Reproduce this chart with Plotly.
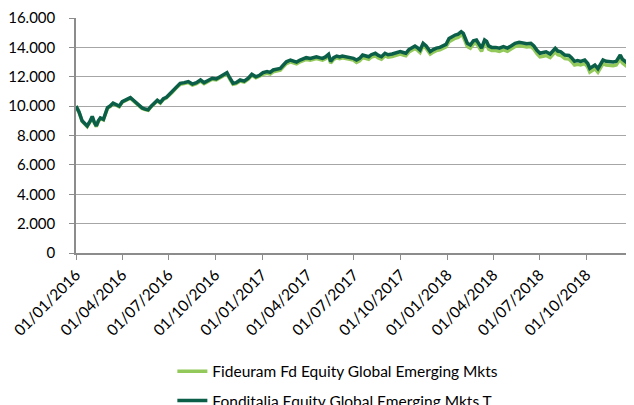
import plotly.graph_objects as go

dates = [
    "2016-01-01","2016-01-07","2016-01-13","2016-01-19","2016-01-23","2016-01-29","2016-02-02","2016-02-06","2016-02-10","2016-02-14",
    "2016-02-18","2016-02-24","2016-02-28","2016-03-03","2016-03-08","2016-03-14","2016-03-20","2016-03-26","2016-04-01","2016-04-09",
    "2016-04-17","2016-04-23","2016-04-29","2016-05-05","2016-05-10","2016-05-16","2016-05-22","2016-05-28","2016-06-03","2016-06-09",
    "2016-06-15","2016-06-21","2016-06-27",
    "2016-07-03","2016-07-08","2016-07-16","2016-07-24","2016-08-01","2016-08-09","2016-08-17","2016-08-25","2016-09-02","2016-09-09",
    "2016-09-17","2016-09-25","2016-10-03","2016-10-11","2016-10-18","2016-10-24","2016-10-30","2016-11-05","2016-11-11","2016-11-19",
    "2016-11-27","2016-12-05","2016-12-12","2016-12-20","2016-12-28",
    "2017-01-03","2017-01-11","2017-01-17","2017-01-23","2017-01-31","2017-02-06","2017-02-12","2017-02-18","2017-02-26","2017-03-04",
    "2017-03-10","2017-03-17","2017-03-23","2017-03-29","2017-04-06","2017-04-12","2017-04-18","2017-04-24","2017-04-30","2017-05-06",
    "2017-05-12","2017-05-16","2017-05-22","2017-05-28","2017-06-03","2017-06-08","2017-06-16","2017-06-24","2017-06-30",
    "2017-07-06","2017-07-12","2017-07-18","2017-07-24","2017-07-30","2017-08-04","2017-08-12","2017-08-18","2017-08-24","2017-08-31",
    "2017-09-06","2017-09-14","2017-09-22","2017-09-30","2017-10-06","2017-10-11","2017-10-17","2017-10-23","2017-10-29","2017-11-04",
    "2017-11-08","2017-11-14","2017-11-20","2017-11-24","2017-11-28","2017-12-04","2017-12-10","2017-12-17","2017-12-23","2017-12-29",
    "2018-01-04","2018-01-10","2018-01-16","2018-01-22","2018-01-28","2018-02-01","2018-02-05","2018-02-09","2018-02-15","2018-02-21",
    "2018-02-27","2018-03-05","2018-03-09","2018-03-15","2018-03-19","2018-03-23","2018-03-29","2018-04-06","2018-04-13","2018-04-21",
    "2018-04-29","2018-05-06","2018-05-14","2018-05-22","2018-05-30","2018-06-06","2018-06-14","2018-06-20","2018-06-26","2018-07-02",
    "2018-07-08","2018-07-14","2018-07-22","2018-07-28","2018-08-01","2018-08-06","2018-08-12","2018-08-20","2018-08-28","2018-09-02",
    "2018-09-08","2018-09-14","2018-09-20","2018-09-28","2018-10-04","2018-10-08","2018-10-14","2018-10-18","2018-10-24","2018-10-30",
    "2018-11-03","2018-11-09","2018-11-17","2018-11-23","2018-11-29","2018-12-05","2018-12-07","2018-12-11","2018-12-17","2018-12-23",
    "2018-12-27","2018-12-31",
]

fonditalia = [
    10000,9600,9000,8800,8650,9000,9300,8900,8650,9000,
    9200,9100,9600,9900,10000,10200,10100,10000,10300,10450,
    10580,10400,10200,10000,9880,9800,9750,10000,10200,10400,
    10250,10500,10600,
    10800,11000,11300,11550,11600,11670,11500,11600,11780,11600,
    11750,11900,11850,12000,12150,12280,11900,11560,11600,11780,
    11700,11900,12170,12000,12120,
    12280,12350,12300,12460,12500,12570,12800,13020,13140,13050,
    13000,13140,13200,13300,13250,13300,13360,13300,13250,13350,
    13530,13050,13300,13410,13350,13410,13350,13320,13250,
    13140,13250,13480,13400,13360,13500,13600,13450,13360,13600,
    13500,13550,13650,13710,13650,13600,13850,13950,14090,13950,
    13820,14280,14100,13900,13710,13850,13950,14000,14100,14200,
    14600,14750,14840,14900,15070,14960,14600,14280,14160,14450,
    14500,14100,13950,14500,14400,14100,14000,14000,13950,14050,
    13950,14100,14280,14350,14300,14250,14280,14100,13800,13600,
    13650,13700,13550,13800,13940,13750,13700,13480,13450,13300,
    13050,13100,13050,13140,12900,12570,12700,12800,12550,12950,
    13140,13050,13020,13000,13050,13350,13480,13200,13020,12850,
    12750,12900,
]

fideuram = [
    10000,9570,8960,8760,8610,8960,9260,8860,8610,8960,
    9160,9060,9560,9860,9960,10160,10060,9960,10260,10410,
    10540,10360,10160,9960,9840,9760,9710,9960,10160,10360,
    10210,10460,10560,
    10730,10930,11230,11480,11530,11600,11430,11530,11710,11530,
    11680,11830,11780,11930,12080,12210,11830,11490,11530,11710,
    11630,11830,12100,11930,12050,
    12160,12230,12180,12340,12380,12450,12680,12900,13020,12930,
    12880,13020,13080,13180,13130,13180,13240,13180,13130,13230,
    13410,12930,13180,13290,13230,13290,13230,13200,13130,
    12970,13080,13310,13230,13190,13330,13430,13280,13190,13430,
    13330,13380,13480,13540,13480,13430,13680,13780,13920,13780,
    13650,14110,13930,13730,13540,13680,13780,13830,13930,14030,
    14380,14530,14620,14680,14850,14740,14380,14060,13940,14230,
    14280,13880,13730,14280,14180,13880,13780,13780,13730,13830,
    13730,13880,14060,14130,14080,14030,14060,13880,13580,13350,
    13400,13450,13300,13550,13690,13500,13450,13230,13200,13050,
    12800,12850,12800,12890,12650,12320,12450,12550,12300,12700,
    12890,12800,12770,12750,12800,13100,13230,12950,12770,12600,
    12500,12650,
]

tick_vals = ["2016-01-01","2016-04-01","2016-07-01","2016-10-01","2017-01-01","2017-04-01",
             "2017-07-01","2017-10-01","2018-01-01","2018-04-01","2018-07-01","2018-10-01","2019-01-01"]
tick_text = ["01/01/2016","01/04/2016","01/07/2016","01/10/2016","01/01/2017","01/04/2017",
             "01/07/2017","01/10/2017","01/01/2018","01/04/2018","01/07/2018","01/10/2018",""]

names = ["Fideuram Fd Equity Global Emerging Mkts", "Fonditalia Equity Global Emerging Mkts T"]
colors = ["#92C95A", "#0B5E47"]

fig = go.Figure()
fig.add_trace(go.Scatter(x=dates, y=fideuram, mode="lines", name=names[0], legendgroup="a",
                         line=dict(color=colors[0], width=3.5)))
fig.add_trace(go.Scatter(x=dates, y=fonditalia, mode="lines", name=names[1], legendgroup="b",
                         line=dict(color=colors[1], width=3.5)))

font_family = "Lato, Carlito, Calibri, sans-serif"
fs = 15.5
fig.update_layout(
    width=626, height=397,
    margin=dict(l=68, r=1, t=10, b=152, autoexpand=False),
    paper_bgcolor="white", plot_bgcolor="white",
    separators=",.",
    font=dict(family=font_family, size=fs, color="#000000"),
    showlegend=True,
    legend=dict(orientation="v", x=0.173, xanchor="left", y=-0.433, yanchor="top",
                tracegroupgap=6, font=dict(size=fs), bgcolor="rgba(0,0,0,0)"),
    xaxis=dict(type="date", range=["2016-01-01", "2019-01-01"], tickvals=tick_vals, ticktext=tick_text,
               tickangle=-45, ticks="outside", ticklen=5, tickcolor="#8C8C8C", tickwidth=1,
               showgrid=False, showline=True, linecolor="#8C8C8C", linewidth=1.5, zeroline=False,
               automargin=False, tickfont=dict(size=fs)),
    yaxis=dict(range=[0, 16000], dtick=2000, tickformat=",d", ticks="outside", ticklen=5,
               tickcolor="#8C8C8C", showgrid=True, gridcolor="#A6A6A6", gridwidth=1,
               showline=True, linecolor="#8C8C8C", linewidth=1.5, zeroline=False,
               automargin=False, ticklabelstandoff=11, tickfont=dict(size=15)),
)

fig.write_html("out.html")
